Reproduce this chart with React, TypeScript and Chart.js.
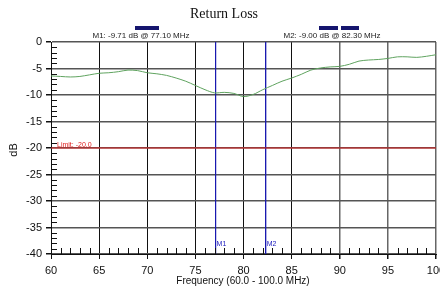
import React, { useEffect, useRef } from "react";
import { Chart, registerables } from "chart.js";
Chart.register(...registerables);

const freqs = [60, 61, 62, 63, 64, 65, 66, 67, 68, 69, 70, 71, 72, 73, 74, 75, 76, 77, 78, 79, 80, 81, 82, 83, 84, 85, 86, 87, 88, 89, 90, 91, 92, 93, 94, 95, 96, 97, 98, 99, 100];
const returnLoss = [-6.4, -6.5, -6.6, -6.5, -6.2, -5.9, -5.8, -5.6, -5.3, -5.4, -5.8, -6.0, -6.3, -6.8, -7.4, -8.2, -9.0, -9.6, -9.5, -9.7, -10.3, -9.9, -9.0, -8.2, -7.4, -6.8, -6.1, -5.3, -4.9, -4.7, -4.6, -4.2, -3.6, -3.4, -3.3, -3.1, -2.8, -2.8, -2.9, -2.7, -2.4];
const limitValue = -20;
const markerNames = ["M1", "M2"];
const markerFreqs = [77.1, 82.3];
const markerValues = [-9.71, -9.0];
const xRange = [60, 100];
const yRange = [-40, 0];

const overlay = {
  id: "overlay",
  afterDatasetsDraw(chart: any) {
    const { ctx, scales, chartArea } = chart;
    const x = scales.x;
    const y = scales.y;
    ctx.save();
    // minor ticks
    ctx.strokeStyle = "#111";
    ctx.lineWidth = 1;
    for (let v = yRange[0]; v <= yRange[1]; v++) {
      if (v % 5 === 0) continue;
      const py = Math.round(y.getPixelForValue(v)) + 0.5;
      ctx.beginPath();
      ctx.moveTo(chartArea.left, py);
      ctx.lineTo(chartArea.left + 6, py);
      ctx.stroke();
    }
    for (let v = xRange[0]; v <= xRange[1]; v++) {
      if (v % 5 === 0) continue;
      const px = Math.round(x.getPixelForValue(v)) + 0.5;
      ctx.beginPath();
      ctx.moveTo(px, chartArea.bottom);
      ctx.lineTo(px, chartArea.bottom - 6);
      ctx.stroke();
    }
    // limit label
    ctx.fillStyle = "#e02020";
    ctx.font = "7px 'Liberation Sans', Arial, sans-serif";
    ctx.textAlign = "left";
    ctx.textBaseline = "bottom";
    ctx.fillText("Limit: " + limitValue.toFixed(1), chartArea.left + 6, y.getPixelForValue(limitValue) + 1);
    // marker labels at bottom
    ctx.fillStyle = "#2020c0";
    ctx.textBaseline = "middle";
    markerNames.forEach((n, i) => {
      ctx.fillText(n, x.getPixelForValue(markerFreqs[i]) + 1, chartArea.bottom - 10);
    });
    // marker readouts on top
    ctx.font = "8px 'Liberation Sans', Arial, sans-serif";
    ctx.fillStyle = "#222";
    ctx.textAlign = "center";
    ctx.textBaseline = "middle";
    const centers = [141, 332];
    markerNames.forEach((n, i) => {
      ctx.fillText(`${n}: ${markerValues[i].toFixed(2)} dB @ ${markerFreqs[i].toFixed(2)} MHz`, centers[i], chartArea.top - 6);
    });
    // navy bars
    ctx.fillStyle = "#15156e";
    ctx.fillRect(135, 26, 24, 4);
    ctx.fillRect(319, 26, 19, 4);
    ctx.fillRect(341, 26, 18, 4);
    // title
    ctx.fillStyle = "#111";
    ctx.font = "14px 'Liberation Serif', 'Times New Roman', serif";
    ctx.textBaseline = "middle";
    ctx.fillText("Return Loss", 224, 14);
    // y title
    ctx.font = "11px 'Liberation Sans', Arial, sans-serif";
    ctx.save();
    ctx.translate(14, (chartArea.top + chartArea.bottom) / 2 + 2);
    ctx.rotate(-Math.PI / 2);
    ctx.fillText("dB", 0, 0);
    ctx.restore();
    // x title
    ctx.font = "10px 'Liberation Sans', Arial, sans-serif";
    ctx.fillText("Frequency (60.0 - 100.0 MHz)", 243, 281);
    ctx.restore();
  },
};

export default function App() {
  const ref = useRef<HTMLCanvasElement | null>(null);
  useEffect(() => {
    document.body.style.margin = "0";
    const lossData = freqs.map((f, i) => ({ x: f, y: returnLoss[i] }));
    const markerSets = markerFreqs.map((f) => ({
      type: "line" as const,
      data: [{ x: f, y: yRange[1] }, { x: f, y: yRange[0] }],
      borderColor: "#1a1ab0",
      borderWidth: 1,
      pointRadius: 0,
    }));
    const chart = new Chart(ref.current!, {
      type: "line",
      data: {
        datasets: [
          {
            data: lossData,
            borderColor: "#5fa35f",
            borderWidth: 1,
            pointRadius: 0,
            tension: 0.3,
          },
          {
            data: [{ x: xRange[0], y: limitValue }, { x: xRange[1], y: limitValue }],
            borderColor: "#e02020",
            borderWidth: 1,
            pointRadius: 0,
          },
          ...markerSets,
        ] as any,
      },
      options: {
        animation: false,
        responsive: false,
        layout: { padding: { top: 42, right: 4, left: 0, bottom: 0 } },
        plugins: { legend: { display: false }, tooltip: { enabled: false }, title: { display: false } },
        scales: {
          x: {
            type: "linear",
            min: xRange[0],
            max: xRange[1],
            afterFit: (s: any) => { s.height = 34; s.paddingRight = 0; s.paddingLeft = 0; },
            ticks: { stepSize: 5, color: "#111", font: { family: "'Liberation Sans', Arial, sans-serif", size: 11 }, padding: 5, maxRotation: 0 },
            grid: {
              color: (c: any) => (c.tick && c.tick.value >= 90 ? "#666" : "#111"),
              lineWidth: (c: any) => (c.tick && c.tick.value >= 90 ? 1.5 : 1),
              tickLength: 5,
              tickColor: "#111",
            },
            border: { color: "#111", width: 1 },
          },
          y: {
            type: "linear",
            min: yRange[0],
            max: yRange[1],
            afterFit: (s: any) => { s.width = 51; s.paddingTop = 0; s.paddingBottom = 0; },
            ticks: { stepSize: 5, color: "#111", font: { family: "'Liberation Sans', Arial, sans-serif", size: 11 }, padding: 4 },
            grid: { color: "#555", lineWidth: 1.5, tickLength: 5, tickColor: "#111" },
            border: { color: "#111", width: 1 },
          },
        },
      },
      plugins: [overlay],
    });
    return () => chart.destroy();
  }, []);
  return (
    <div style={{ position: "absolute", left: 0, top: 0, width: 440, height: 288, background: "#fff" }}>
      <canvas ref={ref} width={440} height={288} />
    </div>
  );
}
